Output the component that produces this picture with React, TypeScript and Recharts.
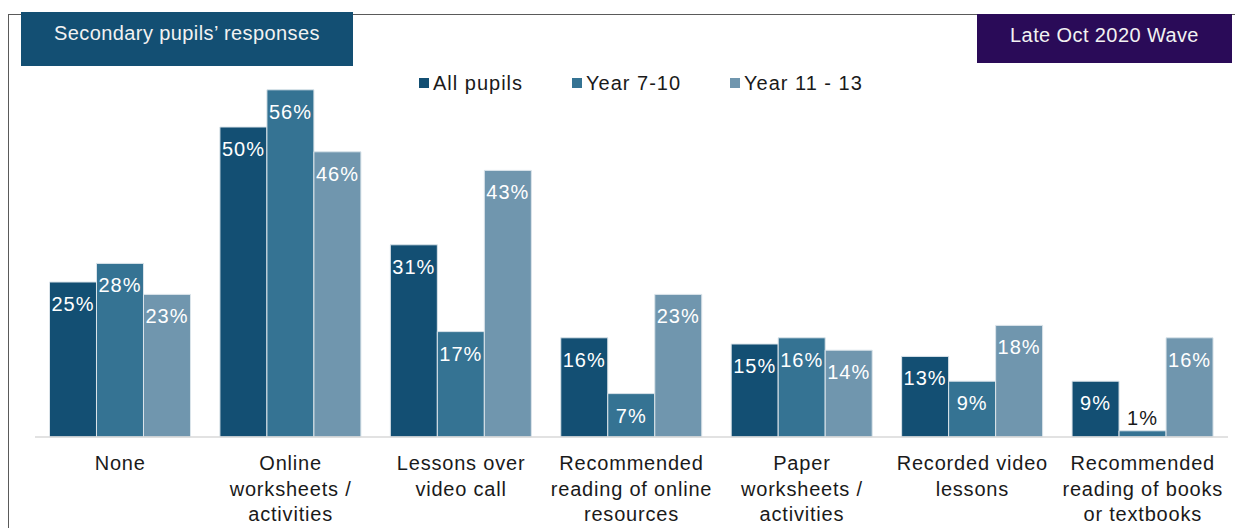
import React from "react";
import { BarChart, Bar, XAxis, YAxis, LabelList } from "recharts";

const categories = [
  "None",
  "Online worksheets / activities",
  "Lessons over video call",
  "Recommended reading of online resources",
  "Paper worksheets / activities",
  "Recorded video lessons",
  "Recommended reading of books or textbooks",
];

// how each category label is broken onto lines
const tickLines = [
  ["None"],
  ["Online", "worksheets /", "activities"],
  ["Lessons over", "video call"],
  ["Recommended", "reading of online", "resources"],
  ["Paper", "worksheets /", "activities"],
  ["Recorded video", "lessons"],
  ["Recommended", "reading of books", "or textbooks"],
];

const allPupils = [25, 50, 31, 16, 15, 13, 9];
const year7to10 = [28, 56, 17, 7, 16, 9, 1];
const year11to13 = [23, 46, 43, 23, 14, 18, 16];

const SERIES = [
  { key: "all", name: "All pupils", color: "#134f73" },
  { key: "y710", name: "Year 7-10", color: "#357393" },
  { key: "y1113", name: "Year 11 - 13", color: "#7096ae" },
];

const data = categories.map((c, i) => ({
  name: c,
  all: allPupils[i],
  y710: year7to10[i],
  y1113: year11to13[i],
}));

const FONT = '"Liberation Sans", Arial, sans-serif';

const CategoryTick = ({ x, y, payload }: any) => {
  const lines = tickLines[payload.index] || [String(payload.value)];
  return (
    <text x={x} y={y} textAnchor="middle" fill="#1a1a1a" fontFamily={FONT} fontSize={20} style={{ letterSpacing: 0.8 }}>
      {lines.map((l, i) => (
        <tspan key={i} x={x} dy={i === 0 ? 33 : 25.5}>
          {l}
        </tspan>
      ))}
    </text>
  );
};

const ValueLabel = ({ x, y, width, value }: any) => {
  const small = value < 3;
  return (
    <text
      x={x + width / 2}
      y={small ? y - 6 : y + 29}
      textAnchor="middle"
      fill={small ? "#1a1a1a" : "#ffffff"}
      fontFamily={FONT}
      fontSize={20}
      style={{ letterSpacing: 1 }}
    >
      {value}%
    </text>
  );
};

export default function App() {
  return (
    <div style={{ position: "absolute", left: 0, top: 0, width: 1235, height: 528, background: "#ffffff", overflow: "hidden" }}>
      {/* frame */}
      <div style={{ position: "absolute", left: 8, top: 14, width: 1227, height: 514, borderTop: "1.5px solid #5a5a5a", borderLeft: "1.5px solid #5a5a5a" }} />

      <BarChart
        width={1235}
        height={528}
        data={data}
        margin={{ top: 65, right: 7, bottom: 61, left: 35 }}
        barCategoryGap="8.5%"
        barGap={0}
      >
        <XAxis
          dataKey="name"
          interval={0}
          height={30}
          tick={<CategoryTick />}
          tickLine={false}
          tickSize={0}
          tickMargin={0}
          axisLine={{ stroke: "#d9d9d9", strokeWidth: 1.5 }}
        />
        <YAxis hide domain={[0, 60]} />
        {SERIES.map((s) => (
          <Bar key={s.key} dataKey={s.key} name={s.name} fill={s.color} stroke="#dbe4ea" strokeWidth={1} isAnimationActive={false}>
            <LabelList dataKey={s.key} content={<ValueLabel />} />
          </Bar>
        ))}
      </BarChart>

      {/* legend */}
      <div style={{ position: "absolute", left: 419, top: 71, display: "flex", alignItems: "center", fontFamily: FONT, fontSize: 20, color: "#1a1a1a", letterSpacing: 1, lineHeight: "24px" }}>
        {SERIES.map((s, i) => (
          <div key={s.key} style={{ display: "flex", alignItems: "center", marginRight: i < 2 ? 49 : 0 }}>
            <div style={{ width: 10, height: 10, background: s.color, marginRight: 4 }} />
            <span>{s.name}</span>
          </div>
        ))}
      </div>

      {/* title badges */}
      <div style={{ position: "absolute", left: 21, top: 12, width: 332, height: 54, background: "#134f73", color: "#f2f2f2", fontFamily: FONT, fontSize: 20, letterSpacing: 0.4, textAlign: "center", lineHeight: "22px", paddingTop: 10, boxSizing: "border-box" }}>
        Secondary pupils’ responses
      </div>
      <div style={{ position: "absolute", left: 977, top: 14, width: 255, height: 49, background: "#2a0b58", color: "#f2f2f2", fontFamily: FONT, fontSize: 20, letterSpacing: 0.4, textAlign: "center", lineHeight: "22px", paddingTop: 10, boxSizing: "border-box" }}>
        Late Oct 2020 Wave
      </div>
    </div>
  );
}
